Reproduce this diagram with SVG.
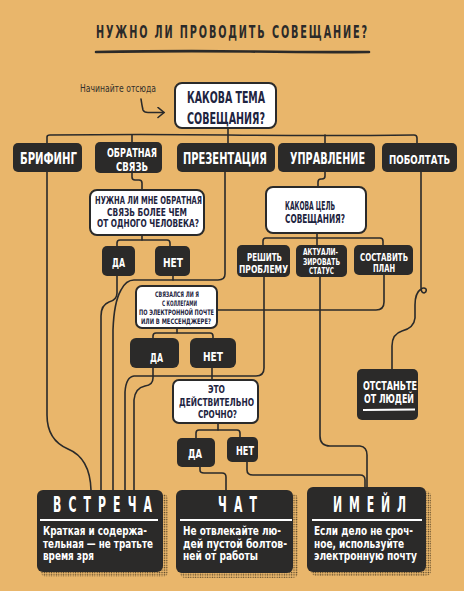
<svg xmlns="http://www.w3.org/2000/svg" width="464" height="591" viewBox="0 0 464 591">
<defs>
<pattern id="dots" width="2.4" height="2.4" patternUnits="userSpaceOnUse">
<circle cx="1.2" cy="1.2" r="0.7" fill="#4a3a22"/>
</pattern>
<marker id="arr" markerWidth="10" markerHeight="12" refX="8" refY="6" orient="auto" markerUnits="userSpaceOnUse">
<path d="M2,1 L8,6 L2,11" fill="none" stroke="#2a2a2a" stroke-width="1.6" stroke-linecap="round"/>
</marker>
</defs>
<style>
.bg{fill:#e9b66b}
.dark{fill:#2b2a29}
.white{fill:#ffffff;stroke:#2a2a2a;stroke-width:2}
.t{font-family:"DejaVu Sans Condensed","DejaVu Sans","Liberation Sans",sans-serif;font-weight:bold}
.w{fill:#ffffff}
.q{fill:#1e2440}
.c{fill:none;stroke:#2a2a2a;stroke-width:1.6;stroke-linecap:round;stroke-linejoin:round}
.sep{stroke:#ffffff;stroke-width:2}
.shadow{fill:url(#dots)}
</style>
<rect class="bg" x="0" y="0" width="464" height="591"/>

<g id="title">
<text class="t" transform="translate(96,38) scale(0.6,1)" x="0" y="0" font-size="18" fill="#2b2a29" textLength="452" lengthAdjust="spacing">НУЖНО ЛИ ПРОВОДИТЬ СОВЕЩАНИЕ?</text>
<path d="M96,52 Q180,50.5 250,51.5 T369,52" fill="none" stroke="#2b2a29" stroke-width="2.6" stroke-linecap="round"/>
</g>

<g id="start-label">
<text x="80" y="92" font-family="DejaVu Sans Condensed,DejaVu Sans,sans-serif" font-size="10" fill="#33302c" textLength="76" lengthAdjust="spacingAndGlyphs">Начинайте отсюда</text>
</g>

<g id="connectors">
<path class="c" d="M141,99 Q142,106 143,110 Q144,112.5 148,112.5 L164,112.5" marker-end="url(#arr)"/>
<path class="c" d="M228,128 V143"/>
<path class="c" d="M47,143 V137 Q47,135 50,135 Q140,134 228,135 Q330,136 414,135 Q417,135 417,138 V143"/>
<path class="c" d="M132,135 V142"/>
<path class="c" d="M325,135 V143"/>
<path class="c" d="M132,173 V177 Q132,180 135,180 H139 Q142,180 142,183 V190"/>
<path class="c" d="M142,235 V240"/>
<path class="c" d="M117,246 V243 Q117,240 120,240 H167 Q170,240 170,243 V246"/>
<path class="c" d="M325,172 V176 Q325,179 322,179 H321 Q318,179 318,182 V187"/>
<path class="c" d="M317,233 V245"/>
<path class="c" d="M263,245 V241 Q263,238 266,238 H380 Q383,238 383,241 V245"/>
<path class="c" d="M47,172 V415 Q47,440 68,449 Q90,458 91,490"/>
<path class="c" d="M117,275 V293 Q117,300 109,302 Q101,305 101,316 V490"/>
<path class="c" d="M225,172 V274 Q225,280 218,280 H134 Q126,280 121,290 Q114,302 113,330 V490"/>
<path class="c" d="M173,275 V280"/>
<path class="c" d="M177,328 V333"/>
<path class="c" d="M153,338 V336 Q153,333 156,333 H210 Q213,333 213,336 V338"/>
<path class="c" d="M384,275 V302 Q384,310 376,310 H217"/>
<path class="c" d="M320,277 V436 Q320,446 330,446 H360 Q367,447 367,455 V488"/>
<path class="c" d="M264,277 V368 Q264,376 256,376 H134 Q126,377 125,392 V490"/>
<path class="c" d="M153,368 V378 Q153,385 145,386 Q135,388 134,400 V490"/>
<path class="c" d="M212,368 V380"/>
<path class="c" d="M218,423 V430"/>
<path class="c" d="M196,438 V433 Q196,430 199,430 H237 Q240,430 240,433 V437"/>
<path class="c" d="M200,467 V470 Q200,473 204,473 H222 Q226,473 226,477 V490"/>
<path class="c" d="M247,462 V470 Q247,475 253,475 H360 Q365,475 365,480 V488"/>
<path class="c" d="M421,172 V287 Q421,293 424,293 Q427,292 426,289 Q424,287 421,289 Q415,293 415,305 V318 Q414,328 402,331 Q392,334 392,346 V370"/>
</g>

<g id="n-tema">
<rect class="white" x="175" y="83" width="101" height="45" rx="7"/>
<text class="t q" x="187" y="103" font-size="15" textLength="78" lengthAdjust="spacingAndGlyphs">КАКОВА ТЕМА</text>
<text class="t q" x="187" y="124" font-size="15" textLength="78" lengthAdjust="spacingAndGlyphs">СОВЕЩАНИЯ?</text>
</g>

<g id="n-brifing">
<rect class="dark" x="13" y="143" width="69" height="29" rx="5"/>
<text class="t w" x="20" y="164" font-size="15" textLength="57" lengthAdjust="spacingAndGlyphs">БРИФИНГ</text>
</g>
<g id="n-feedback">
<rect class="dark" x="95" y="142" width="67" height="31" rx="5"/>
<text class="t w" x="107" y="157" font-size="12" textLength="50" lengthAdjust="spacingAndGlyphs">ОБРАТНАЯ</text>
<text class="t w" x="116" y="171" font-size="12" textLength="32" lengthAdjust="spacingAndGlyphs">СВЯЗЬ</text>
</g>
<g id="n-present">
<rect class="dark" x="177" y="143" width="98" height="29" rx="5"/>
<text class="t w" x="183" y="164" font-size="15" textLength="84" lengthAdjust="spacingAndGlyphs">ПРЕЗЕНТАЦИЯ</text>
</g>
<g id="n-manage">
<rect class="dark" x="278" y="143" width="97" height="29" rx="5"/>
<text class="t w" x="290" y="164" font-size="15" textLength="75" lengthAdjust="spacingAndGlyphs">УПРАВЛЕНИЕ</text>
</g>
<g id="n-chat-talk">
<rect class="dark" x="382" y="143" width="75" height="29" rx="5"/>
<text class="t w" x="389" y="164" font-size="13" textLength="61" lengthAdjust="spacingAndGlyphs">ПОБОЛТАТЬ</text>
</g>

<g id="n-q1">
<rect class="white" x="90" y="190" width="114" height="45" rx="7"/>
<text class="t q" x="95" y="204" font-size="10" textLength="107" lengthAdjust="spacingAndGlyphs">НУЖНА ЛИ МНЕ ОБРАТНАЯ</text>
<text class="t q" x="107" y="215.5" font-size="10" textLength="80" lengthAdjust="spacingAndGlyphs">СВЯЗЬ БОЛЕЕ ЧЕМ</text>
<text class="t q" x="97" y="227" font-size="10" textLength="102" lengthAdjust="spacingAndGlyphs">ОТ ОДНОГО ЧЕЛОВЕКА?</text>
</g>
<g id="n-q1-yes">
<rect class="dark" x="102" y="246" width="33" height="30" rx="5"/>
<text class="t w" x="112" y="267" font-size="13" textLength="13" lengthAdjust="spacingAndGlyphs">ДА</text>
</g>
<g id="n-q1-no">
<rect class="dark" x="155" y="246" width="35" height="30" rx="5"/>
<text class="t w" x="163" y="267" font-size="13" textLength="20" lengthAdjust="spacingAndGlyphs">НЕТ</text>
</g>

<g id="n-q2">
<rect class="white" x="266" y="187" width="100" height="46" rx="7"/>
<text class="t q" x="285" y="210" font-size="12" textLength="50" lengthAdjust="spacingAndGlyphs">КАКОВА ЦЕЛЬ</text>
<text class="t q" x="285" y="223" font-size="12" textLength="60" lengthAdjust="spacingAndGlyphs">СОВЕЩАНИЯ?</text>
</g>
<g id="n-solve">
<rect class="dark" x="237" y="245" width="53" height="32" rx="5"/>
<text class="t w" x="247" y="261" font-size="10" textLength="35" lengthAdjust="spacingAndGlyphs">РЕШИТЬ</text>
<text class="t w" x="239" y="272.5" font-size="10" textLength="49" lengthAdjust="spacingAndGlyphs">ПРОБЛЕМУ</text>
</g>
<g id="n-status">
<rect class="dark" x="296" y="245" width="51" height="32" rx="5"/>
<text class="t w" x="303" y="255" font-size="8.5" textLength="35" lengthAdjust="spacingAndGlyphs">АКТУАЛИ-</text>
<text class="t w" x="303" y="264.5" font-size="8.5" textLength="37" lengthAdjust="spacingAndGlyphs">ЗИРОВАТЬ</text>
<text class="t w" x="309" y="274" font-size="8.5" textLength="25" lengthAdjust="spacingAndGlyphs">СТАТУС</text>
</g>
<g id="n-plan">
<rect class="dark" x="354" y="245" width="59" height="30" rx="5"/>
<text class="t w" x="360" y="260.5" font-size="10" textLength="48" lengthAdjust="spacingAndGlyphs">СОСТАВИТЬ</text>
<text class="t w" x="373" y="272" font-size="10" textLength="22" lengthAdjust="spacingAndGlyphs">ПЛАН</text>
</g>

<g id="n-q3">
<rect class="white" x="136" y="286" width="81" height="42" rx="6"/>
<text class="t q" x="155" y="297" font-size="7.5" textLength="44" lengthAdjust="spacingAndGlyphs">СВЯЗАЛСЯ ЛИ Я</text>
<text class="t q" x="162" y="306" font-size="7.5" textLength="35" lengthAdjust="spacingAndGlyphs">С КОЛЛЕГАМИ</text>
<text class="t q" x="139" y="315" font-size="7.5" textLength="75" lengthAdjust="spacingAndGlyphs">ПО ЭЛЕКТРОННОЙ ПОЧТЕ</text>
<text class="t q" x="141" y="323.5" font-size="7.5" textLength="70" lengthAdjust="spacingAndGlyphs">ИЛИ В МЕССЕНДЖЕРЕ?</text>
</g>
<g id="n-q3-yes">
<rect class="dark" x="130" y="338" width="49" height="30" rx="6"/>
<text class="t w" x="150" y="362" font-size="13" textLength="13" lengthAdjust="spacingAndGlyphs">ДА</text>
</g>
<g id="n-q3-no">
<rect class="dark" x="190" y="338" width="46" height="30" rx="6"/>
<text class="t w" x="203" y="361" font-size="13" textLength="20" lengthAdjust="spacingAndGlyphs">НЕТ</text>
</g>

<g id="n-q4">
<rect class="white" x="173" y="380" width="85" height="43" rx="6"/>
<text class="t q" x="208" y="393" font-size="10" textLength="17" lengthAdjust="spacingAndGlyphs">ЭТО</text>
<text class="t q" x="179" y="405.5" font-size="10" textLength="75" lengthAdjust="spacingAndGlyphs">ДЕЙСТВИТЕЛЬНО</text>
<text class="t q" x="198" y="417.5" font-size="10" textLength="39" lengthAdjust="spacingAndGlyphs">СРОЧНО?</text>
</g>
<g id="n-q4-yes">
<rect class="dark" x="177" y="438" width="38" height="29" rx="5"/>
<text class="t w" x="188" y="458" font-size="12" textLength="14" lengthAdjust="spacingAndGlyphs">ДА</text>
</g>
<g id="n-q4-no">
<rect class="dark" x="227" y="437" width="31" height="25" rx="5"/>
<text class="t w" x="236" y="455" font-size="12" textLength="18" lengthAdjust="spacingAndGlyphs">НЕТ</text>
</g>

<g id="n-leave">
<rect class="dark" x="357" y="369" width="61" height="51" rx="5"/>
<text class="t w" x="363" y="390" font-size="12" textLength="54" lengthAdjust="spacingAndGlyphs">ОТСТАНЬТЕ</text>
<text class="t w" x="364" y="403" font-size="12" textLength="50" lengthAdjust="spacingAndGlyphs">ОТ ЛЮДЕЙ</text>
<line class="sep" x1="363" y1="410" x2="415" y2="409.5"/>
</g>

<g id="n-meeting">
<rect class="shadow" x="41" y="494" width="127" height="83" rx="5"/>
<rect class="dark" x="37" y="490" width="126" height="82" rx="6"/>
<text class="t w" transform="translate(53,512) scale(0.55,1)" x="0" y="0" font-size="22" textLength="180" lengthAdjust="spacing">ВСТРЕЧА</text>
<line class="sep" x1="40" y1="520" x2="158" y2="520"/>
<text class="t w" x="43" y="535" font-size="11.5" textLength="104" lengthAdjust="spacingAndGlyphs">Краткая и содержа-</text>
<text class="t w" x="43" y="547.5" font-size="11.5" textLength="110" lengthAdjust="spacingAndGlyphs">тельная — не тратьте</text>
<text class="t w" x="43" y="560" font-size="11.5" textLength="51" lengthAdjust="spacingAndGlyphs">время зря</text>
</g>
<g id="n-chat">
<rect class="shadow" x="180" y="494" width="118" height="84" rx="5"/>
<rect class="dark" x="176" y="490" width="117" height="83" rx="6"/>
<text class="t w" transform="translate(218,512) scale(0.55,1)" x="0" y="0" font-size="22" textLength="71" lengthAdjust="spacing">ЧАТ</text>
<line class="sep" x1="180" y1="520" x2="292" y2="520"/>
<text class="t w" x="183" y="535" font-size="11.5" textLength="98" lengthAdjust="spacingAndGlyphs">Не отвлекайте лю-</text>
<text class="t w" x="183" y="547.5" font-size="11.5" textLength="104" lengthAdjust="spacingAndGlyphs">дей пустой болтов-</text>
<text class="t w" x="183" y="560" font-size="11.5" textLength="75" lengthAdjust="spacingAndGlyphs">ней от работы</text>
</g>
<g id="n-email">
<rect class="shadow" x="311" y="491" width="120" height="85" rx="5"/>
<rect class="dark" x="307" y="487" width="119" height="85" rx="6"/>
<text class="t w" transform="translate(333,512) scale(0.55,1)" x="0" y="0" font-size="22" textLength="133" lengthAdjust="spacing">ИМЕЙЛ</text>
<line class="sep" x1="312" y1="520" x2="422" y2="520"/>
<text class="t w" x="314" y="535" font-size="11.5" textLength="99" lengthAdjust="spacingAndGlyphs">Если дело не сроч-</text>
<text class="t w" x="314" y="547.5" font-size="11.5" textLength="90" lengthAdjust="spacingAndGlyphs">ное, используйте</text>
<text class="t w" x="314" y="560" font-size="11.5" textLength="103" lengthAdjust="spacingAndGlyphs">электронную почту</text>
</g>
</svg>
